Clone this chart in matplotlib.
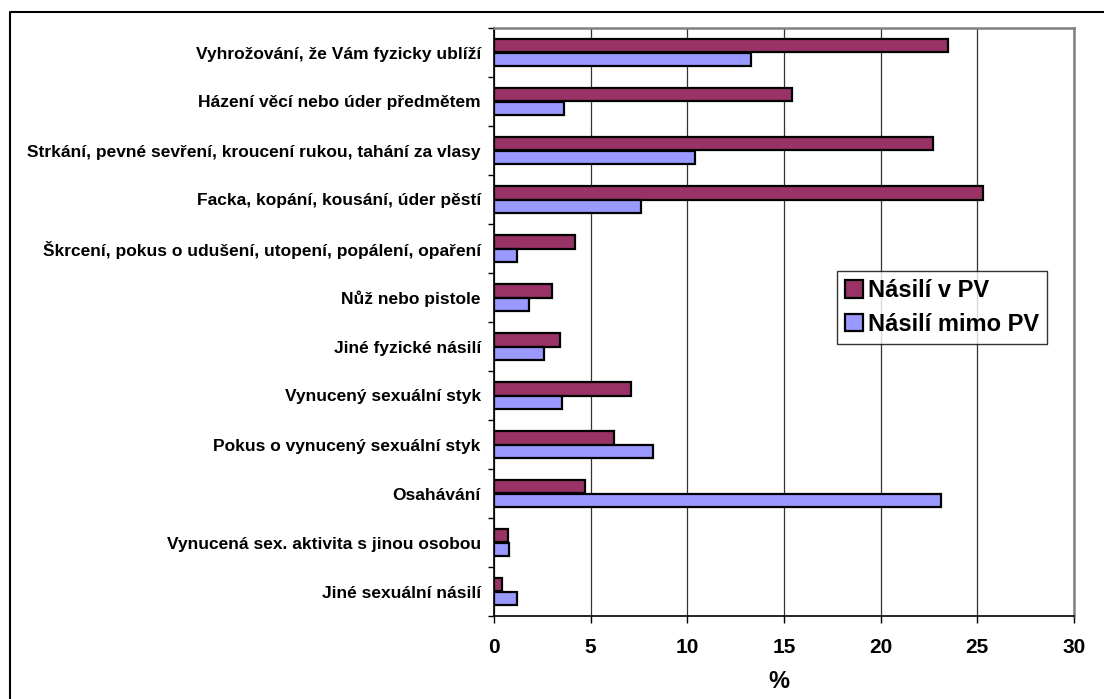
import matplotlib
matplotlib.use("Agg")
import matplotlib.pyplot as plt
from matplotlib.lines import Line2D
from matplotlib.ticker import FixedLocator
import numpy as np

categories = [
    "Vyhrožování, že Vám fyzicky ublíží",
    "Házení věcí nebo úder předmětem",
    "Strkání, pevné sevření, kroucení rukou, tahání za vlasy",
    "Facka, kopání, kousání, úder pěstí",
    "Škrcení, pokus o udušení, utopení, popálení, opaření",
    "Nůž nebo pistole",
    "Jiné fyzické násilí",
    "Vynucený sexuální styk",
    "Pokus o vynucený sexuální styk",
    "Osahávání",
    "Vynucená sex. aktivita s jinou osobou",
    "Jiné sexuální násilí",
]
nasili_v_pv = [23.5, 15.4, 22.7, 25.3, 4.2, 3.0, 3.4, 7.1, 6.2, 4.7, 0.7, 0.4]
nasili_mimo_pv = [13.3, 3.6, 10.4, 7.6, 1.2, 1.8, 2.6, 3.5, 8.2, 23.1, 0.8, 1.2]
series_names = ["Násilí v PV", "Násilí mimo PV"]
x_ticks = [0, 5, 10, 15, 20, 25, 30]
x_label = "%"

plt.rcParams['font.family'] = ['Liberation Sans', 'DejaVu Sans']
plt.rcParams['font.weight'] = 'bold'

W, H = 1104, 699
fig = plt.figure(figsize=(W / 100, H / 100), dpi=100)
ax = fig.add_axes([494 / W, 1 - 616 / H, (1074 - 494) / W, (616 - 28) / H])

n = len(categories)
y = np.arange(n)
h = 0.28
ax.barh(y - h / 2, nasili_v_pv, height=h, color="#993366", edgecolor="black",
        linewidth=1.6, label=series_names[0], zorder=3)
ax.barh(y + h / 2, nasili_mimo_pv, height=h, color="#9999FF", edgecolor="black",
        linewidth=1.6, label=series_names[1], zorder=3)

ax.set_ylim(n - 0.5, -0.5)
ax.set_xlim(x_ticks[0], x_ticks[-1])
ax.set_xticks(x_ticks)
ax.set_xticklabels([str(t) for t in x_ticks], fontsize=15, fontweight='bold')
ax.set_yticks(y)
ax.set_yticklabels(categories, fontsize=12.5, fontweight='bold')
ax.yaxis.set_minor_locator(FixedLocator(np.arange(n + 1) - 0.5))
ax.tick_params(axis='y', which='major', length=0, pad=9.5)
ax.tick_params(axis='y', which='minor', length=4, width=1, direction='out', color='black')
ax.tick_params(axis='x', which='major', length=5, width=1, direction='out', pad=11)

ax.xaxis.grid(True, color='#333333', linewidth=0.9, zorder=0)
ax.set_axisbelow(True)

for side in ['left', 'bottom']:
    ax.spines[side].set_color('black')
    ax.spines[side].set_linewidth(1.2)
for side in ['top', 'right']:
    ax.spines[side].set_color('#808080')
    ax.spines[side].set_linewidth(1.8)

ax.set_xlabel(x_label, fontsize=17, fontweight='bold')
ax.xaxis.set_label_coords((779 - 494) / 580, -0.092)

leg = ax.legend(loc='upper left', bbox_to_anchor=((837 - 494) / 580, 1 - (271 - 28) / 588),
                borderaxespad=0, fontsize=17, frameon=True, fancybox=False,
                edgecolor='black', handlelength=0.75, handleheight=0.75,
                handletextpad=0.2, borderpad=0.35, labelspacing=0.45)
leg.get_frame().set_linewidth(1.0)
for t in leg.get_texts():
    t.set_fontweight('bold')
for p in leg.get_patches():
    p.set_linewidth(1.6)

# outer chart border (left and top visible)
fig.add_artist(Line2D([9.5 / W, 9.5 / W, 1.0], [0.0, 1 - 12 / H, 1 - 12 / H],
                      transform=fig.transFigure, color='black', linewidth=1.5))

fig.savefig("out.png", dpi=100, facecolor='white')
